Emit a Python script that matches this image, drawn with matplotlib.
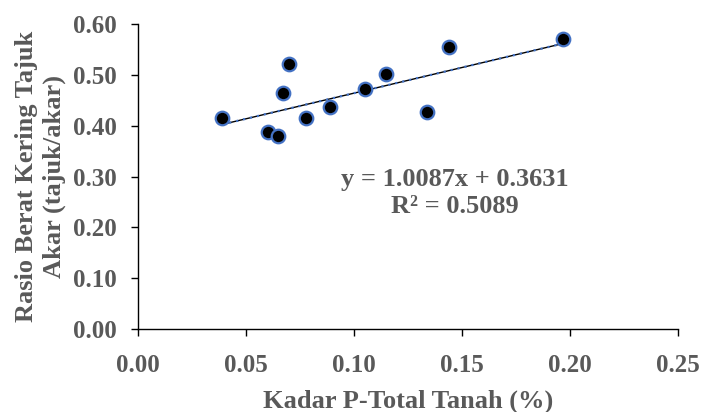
import numpy as np
import matplotlib.pyplot as plt

# data
kadar_p = [0.039, 0.060, 0.065, 0.067, 0.070, 0.078, 0.089, 0.105, 0.115, 0.134, 0.144, 0.197]
rasio = [0.416, 0.388, 0.379, 0.464, 0.522, 0.416, 0.436, 0.473, 0.501, 0.426, 0.554, 0.570]
slope = 1.0087
intercept = 0.3631
r2 = 0.5089
x_ticks = [0.00, 0.05, 0.10, 0.15, 0.20, 0.25]
y_ticks = [0.00, 0.10, 0.20, 0.30, 0.40, 0.50, 0.60]

plt.rcParams['font.family'] = ['Liberation Serif', 'DejaVu Serif']
plt.rcParams['font.weight'] = 'bold'
grey = '#595959'

fig = plt.figure(figsize=(7.01, 4.12), dpi=100)
ax = fig.add_axes([0.1969, 0.2015, 0.967 - 0.1969, 0.9417 - 0.2015])

# trendline (Excel-style: thin black line with blue dotted overlay)
xs = np.array([min(kadar_p), max(kadar_p)])
ys = slope * xs + intercept
ax.plot(xs, ys, color='black', lw=1.0, zorder=2)
ax.plot(xs, ys, color='#4472C4', lw=1.6, linestyle=(0, (1, 2.2)), zorder=2)

ax.scatter(kadar_p, rasio, s=95, color='black', edgecolors='#4472C4', linewidths=1.6, zorder=3)

ax.set_xlim(0, 0.25)
ax.set_ylim(0, 0.60)
ax.set_xticks(x_ticks)
ax.set_yticks(y_ticks)
ax.set_xticklabels([f'{v:.2f}' for v in x_ticks])
ax.set_yticklabels([f'{v:.2f}' for v in y_ticks])
ax.tick_params(axis='both', direction='out', length=5, width=1, colors='black',
               labelcolor=grey, labelsize=18)
ax.tick_params(axis='y', pad=10)
ax.tick_params(axis='x', pad=13)

ax.spines[['top', 'right']].set_visible(False)
for s in ['left', 'bottom']:
    ax.spines[s].set_linewidth(1.0)

ax.set_xlabel('Kadar P-Total Tanah (%)', fontsize=19, color=grey, fontweight='bold', labelpad=9)
ax.set_ylabel('Rasio Berat Kering Tajuk\nAkar (tajuk/akar)', fontsize=19, color=grey,
              fontweight='bold', labelpad=5, linespacing=1.25)

ax.text(0.1468, 0.295, f'y = {slope:.4f}x + {intercept:.4f}', ha='center', va='center',
        fontsize=19, color=grey, fontweight='bold')
ax.text(0.1468, 0.240, f'R² = {r2:.4f}', ha='center', va='center',
        fontsize=19, color=grey, fontweight='bold')

fig.savefig('out.png', dpi=100)
